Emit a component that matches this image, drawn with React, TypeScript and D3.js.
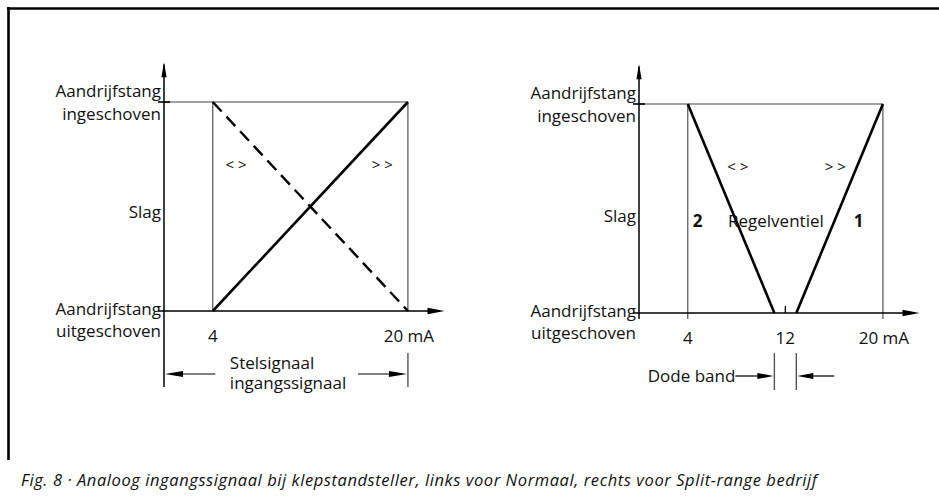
import React from "react";
import * as d3 from "d3";

// ---- data ----
const leftTickValues = [4, 20];
const leftTickLabels = ["4", "20 mA"];
const rightTickValues = [4, 12, 20];
const rightTickLabels = ["4", "12", "20 mA"];
const normalRising = [
  [4, 0],
  [20, 100],
];
const normalFalling = [
  [4, 100],
  [20, 0],
];
const valve2 = [
  [4, 100],
  [11.1, 0],
];
const valve1 = [
  [12.9, 0],
  [20, 100],
];
const deadBand = [11.1, 12.9];
const yLabelsTop = ["Aandrijfstang", "ingeschoven"];
const yLabelMid = "Slag";
const yLabelsBottom = ["Aandrijfstang", "uitgeschoven"];
const caption =
  "Fig. 8 · Analoog ingangssignaal bij klepstandsteller, links voor Normaal, rechts voor Split-range bedrijf";

const W = 939;
const H = 496;
const FONT = "'Open Sans', sans-serif";

type Pt = number[];

function Arrow({ x, y, dir, len = 16, hw = 3.2 }: { x: number; y: number; dir: "up" | "right" | "left"; len?: number; hw?: number }) {
  let pts = "";
  if (dir === "up") pts = `${x},${y} ${x - hw},${y + len} ${x + hw},${y + len}`;
  if (dir === "right") pts = `${x},${y} ${x - len},${y - hw} ${x - len},${y + hw}`;
  if (dir === "left") pts = `${x},${y} ${x + len},${y - hw} ${x + len},${y + hw}`;
  return <polygon points={pts} fill="#000" />;
}

function Panel({
  x0,
  y0,
  ticks,
  tickLabels,
  lines,
  dashed,
  split,
}: {
  x0: number;
  y0: number;
  ticks: number[];
  tickLabels: string[];
  lines: Pt[][];
  dashed: Pt[][];
  split: boolean;
}) {
  const x = d3.scaleLinear().domain([0, 23]).range([x0, x0 + 280.5]);
  const y = d3.scaleLinear().domain([0, 100]).range([y0, y0 - 209]);
  const line = d3
    .line<Pt>()
    .x((d) => x(d[0]))
    .y((d) => y(d[1]));
  const ax = x(0);
  const top = y(100);
  const base = y(0);
  const labelX = ax - 3;
  const fs = 17;
  return (
    <g>
      {/* box */}
      <line x1={ax} x2={x(20)} y1={top} y2={top} stroke="#444" strokeWidth={1.1} />
      <line x1={x(4)} x2={x(4)} y1={top} y2={split ? base + 6 : base} stroke="#444" strokeWidth={1.1} />
      <line x1={x(20)} x2={x(20)} y1={top} y2={split ? base + 6 : base} stroke="#444" strokeWidth={1.1} />
      {/* top tick */}
      <line x1={ax - 6} x2={ax + 6} y1={top} y2={top} stroke="#000" strokeWidth={1.6} />
      {/* y axis */}
      <line x1={ax} x2={ax} y1={y(118)} y2={split ? base + 6 : y0 + 76} stroke="#000" strokeWidth={1.5} />
      <Arrow x={ax} y={y(119)} dir="up" len={15} hw={2.6} />
      {/* x axis */}
      <line x1={ax - 6} x2={x(22.6)} y1={base} y2={base} stroke="#000" strokeWidth={1.5} />
      <Arrow x={x(23)} y={base} dir="right" len={17} hw={3.2} />
      {split && <line x1={x(12)} x2={x(12)} y1={base - 7} y2={base} stroke="#000" strokeWidth={1.3} />}
      {/* data lines */}
      {lines.map((l, i) => (
        <path key={"l" + i} d={line(l) || ""} fill="none" stroke="#000" strokeWidth={2.6} />
      ))}
      {dashed.map((l, i) => (
        <path key={"d" + i} d={line(l) || ""} fill="none" stroke="#000" strokeWidth={2.4} strokeDasharray="13 7" />
      ))}
      {/* y labels */}
      <g fontFamily={FONT} fontSize={fs} fill="#111" textAnchor="end">
        <text x={labelX} y={top - 5}>{yLabelsTop[0]}</text>
        <text x={labelX} y={top + 18}>{yLabelsTop[1]}</text>
        <text x={labelX} y={y(50) + 11 + (split ? 2 : 0)}>{yLabelMid}</text>
        <text x={labelX} y={base + 4}>{yLabelsBottom[0]}</text>
        <text x={labelX} y={base + 26}>{yLabelsBottom[1]}</text>
      </g>
      {/* tick labels */}
      <g fontFamily={FONT} fontSize={fs} fill="#111" textAnchor="middle">
        {ticks.map((t, i) => (
          <text key={t} x={x(t) + (tickLabels[i].length > 3 ? 1 : 0)} y={base + 31}>
            {tickLabels[i]}
          </text>
        ))}
      </g>
      {/* direction markers */}
      <g fontFamily={FONT} fontSize={15} fill="#111" textAnchor="middle">
        <text x={x(split ? 8.1 : 5.9)} y={y(68) + 1}>{"< >"}</text>
        <text x={x(split ? 16.1 : 17.9)} y={y(68) + 1}>{"> >"}</text>
      </g>
      {split ? (
        <g>
          <g fontFamily={FONT} fontSize={fs} fill="#111">
            <text x={x(4.4)} y={y(50) + 18} fontWeight="bold">2</text>
            <text x={x(7.3)} y={y(50) + 18}>Regelventiel</text>
            <text x={x(17.6)} y={y(50) + 18} fontWeight="bold">1</text>
            <text x={x(deadBand[0]) - 39} y={base + 69} textAnchor="end">Dode band</text>
          </g>
          {deadBand.map((v) => (
            <line key={v} x1={x(v)} x2={x(v)} y1={base + 40} y2={base + 77} stroke="#555" strokeWidth={1.4} />
          ))}
          <line x1={x(deadBand[0]) - 39} x2={x(deadBand[0]) - 10} y1={base + 63} y2={base + 63} stroke="#000" strokeWidth={1.2} />
          <Arrow x={x(deadBand[0]) - 1} y={base + 63} dir="right" len={16} hw={3} />
          <line x1={x(deadBand[1]) + 10} x2={x(deadBand[1]) + 38} y1={base + 63} y2={base + 63} stroke="#000" strokeWidth={1.2} />
          <Arrow x={x(deadBand[1]) + 1} y={base + 63} dir="left" len={16} hw={3} />
        </g>
      ) : (
        <g>
          <line x1={x(20)} x2={x(20)} y1={base + 42} y2={base + 76} stroke="#555" strokeWidth={1.4} />
          <line x1={ax + 10} x2={x(4.2)} y1={base + 63} y2={base + 63} stroke="#000" strokeWidth={1.2} />
          <Arrow x={ax + 1} y={base + 63} dir="left" len={18} hw={3} />
          <line x1={x(15.9)} x2={x(20) - 10} y1={base + 63} y2={base + 63} stroke="#000" strokeWidth={1.2} />
          <Arrow x={x(20) - 1} y={base + 63} dir="right" len={18} hw={3} />
          <g fontFamily={FONT} fontSize={fs} fill="#111">
            <text x={x(5.4)} y={base + 58}>Stelsignaal</text>
            <text x={x(5.4)} y={base + 78}>ingangssignaal</text>
          </g>
        </g>
      )}
    </g>
  );
}

export default function App() {
  return (
    <svg
      width={W}
      height={H}
      style={{ position: "absolute", left: 0, top: 0, background: "#fff" }}
    >
      <rect width={W} height={H} fill="#fff" />
      {/* frame */}
      <line x1={7} x2={W} y1={8.5} y2={8.5} stroke="#000" strokeWidth={2.6} />
      <line x1={8.5} x2={8.5} y1={7} y2={460} stroke="#000" strokeWidth={2.6} />
      <Panel x0={164} y0={311} ticks={leftTickValues} tickLabels={leftTickLabels} lines={[normalRising]} dashed={[normalFalling]} split={false} />
      <Panel x0={639} y0={313} ticks={rightTickValues} tickLabels={rightTickLabels} lines={[valve2, valve1]} dashed={[]} split={true} />
      <text
        x={21}
        y={486}
        fontFamily={FONT}
        fontStyle="italic"
        fontSize={16.5}
        fill="#111"
        textLength={796}
        lengthAdjust="spacing"
      >
        {caption}
      </text>
    </svg>
  );
}
